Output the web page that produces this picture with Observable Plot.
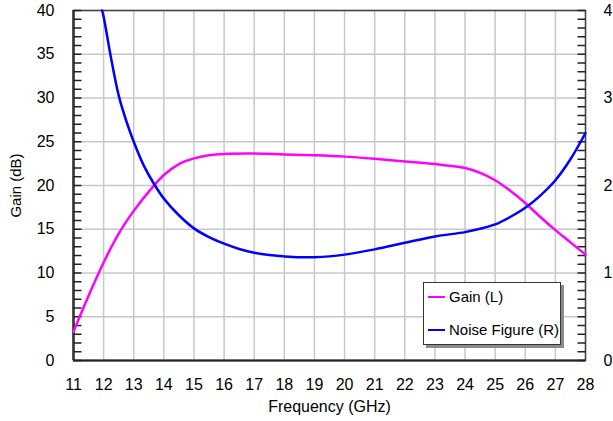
<!DOCTYPE html>
<html>
<head>
<meta charset="utf-8">
<script src="https://cdn.jsdelivr.net/npm/d3@7"></script>
<script src="https://cdn.jsdelivr.net/npm/@observablehq/plot@0.6"></script>
<style>
  html, body { margin: 0; padding: 0; background: #fff; }
  #wrap { position: relative; width: 613px; height: 421px; font-family: "Liberation Sans", Arial, sans-serif; }
  #legend { position: absolute; left: 423px; top: 282px; width: 136px; height: 61px; background: #fff;
            border: 1px solid #333; box-shadow: 3px 3px 0 #8a8a8a; font-size: 15px; color: #000; }
  .row { position: absolute; left: 4px; display: flex; align-items: center; white-space: nowrap; line-height: 18px; }
  .sw { display: inline-block; width: 17px; height: 2.5px; margin-right: 4px; }
</style>
</head>
<body>
<div id="wrap"><div id="chart"></div>
  <div id="legend">
    <div class="row" style="top:5px"><span class="sw" style="background:#ff00ff"></span><span>Gain (L)</span></div>
    <div class="row" style="top:38px"><span class="sw" style="background:#0000ff"></span><span>Noise Figure (R)</span></div>
  </div>
</div>
<script>
// Gain (left axis, dB)
const gainFreq = [11, 11.5, 12, 12.5, 13, 13.5, 14, 14.5, 15, 15.5, 16, 17, 18, 19, 20, 21, 22, 23, 24, 24.5, 25, 25.5, 26, 26.5, 27, 27.5, 28];
const gainDb   = [3.3, 7.4, 11.2, 14.5, 17.1, 19.3, 21.2, 22.45, 23.1, 23.45, 23.6, 23.65, 23.55, 23.45, 23.3, 23.05, 22.75, 22.45, 22.0, 21.45, 20.6, 19.4, 18.0, 16.4, 14.9, 13.5, 12.1];
// Noise figure (right axis, dB)
const nfFreq = [11.95, 12, 12.25, 12.5, 12.75, 13, 13.33, 13.67, 14, 14.5, 15, 15.5, 16, 16.5, 17, 17.5, 18, 18.5, 19, 19.5, 20, 21, 22, 23, 24, 24.5, 25, 25.5, 26, 26.5, 27, 27.5, 28];
const nfDb   = [4.0, 3.93, 3.45, 3.03, 2.74, 2.5, 2.23, 2.02, 1.85, 1.66, 1.51, 1.41, 1.335, 1.275, 1.232, 1.205, 1.19, 1.18, 1.18, 1.19, 1.21, 1.27, 1.345, 1.418, 1.467, 1.505, 1.555, 1.64, 1.745, 1.885, 2.06, 2.3, 2.6];
// Axis ticks
const xTicks = d3.range(11, 29);
const yLeftTicks = d3.range(0, 41, 5);
const yLeftMinor = d3.range(0, 41, 1);
const yRightTicks = [0, 1, 2, 3, 4];
const yRightMinor = d3.range(0, 41, 1).map(d => d / 10);

const ratio = 10; // right axis (0–4) mapped onto left axis (0–40)
const gain = gainFreq.map((f, i) => ({f, v: gainDb[i]}));
const nf = nfFreq.map((f, i) => ({f, v: nfDb[i] * ratio}));
const leftMinor = yLeftMinor.map(v => ({v}));
const rightMinor = yRightMinor.map(v => ({v: v * ratio}));

const W = 613, H = 421, ML = 73, MR = 28, MT = 10, MB = 61;
const xDomain = [11, 28];
const tickLen = 8, innerW = W - ML - MR;
const tickDx = tickLen * (xDomain[1] - xDomain[0]) / innerW; // 8px expressed in x units

const chart = Plot.plot({
  width: W, height: H,
  marginLeft: ML, marginRight: MR, marginTop: MT, marginBottom: MB,
  style: {fontFamily: "'Liberation Sans', Arial, sans-serif", fontSize: "16px", color: "#000", background: "#fff"},
  x: {domain: xDomain},
  y: {domain: [0, 40]},
  marks: [
    Plot.gridX(xTicks, {stroke: "#c8c8c8", strokeOpacity: 1, strokeWidth: 1.5}),
    Plot.gridY(yLeftTicks, {stroke: "#c8c8c8", strokeOpacity: 1, strokeWidth: 1.5}),
    Plot.frame({stroke: "#444", strokeWidth: 1.5}),
    Plot.ruleX([11], {stroke: "#333", strokeWidth: 2.5}),
    Plot.ruleY([0], {stroke: "#222", strokeWidth: 2}),
    Plot.link(leftMinor, {x1: () => xDomain[0], x2: () => xDomain[0] + tickDx, y1: "v", y2: "v", stroke: "#222", strokeWidth: 1.5}),
    Plot.link(rightMinor, {x1: () => xDomain[1] - tickDx, x2: () => xDomain[1], y1: "v", y2: "v", stroke: "#222", strokeWidth: 1.5}),
    Plot.axisX(xTicks, {tickSize: 0, tickPadding: 18, fontSize: 16, label: null}),
    Plot.axisX({tickSize: 0, ticks: [], fontSize: 16, label: "Frequency (GHz)", labelAnchor: "center", labelArrow: "none", labelOffset: 51}),
    Plot.axisY(yLeftTicks, {anchor: "left", tickSize: 0, tickPadding: 19, fontSize: 16, label: null}),
    Plot.axisY({anchor: "left", tickSize: 0, ticks: [], fontSize: 15, label: "Gain (dB)", labelAnchor: "center", labelArrow: "none", labelOffset: 63}),
    Plot.axisY(yRightTicks.map(d => d * ratio), {anchor: "right", tickSize: 0, tickPadding: 18, fontSize: 16, tickFormat: d => d / ratio, label: null}),
    Plot.line(gain, {x: "f", y: "v", stroke: "#ff00ff", strokeWidth: 2.5, curve: "catmull-rom"}),
    Plot.line(nf, {x: "f", y: "v", stroke: "#0000ff", strokeWidth: 2.5, curve: "catmull-rom"})
  ]
});
document.getElementById("chart").appendChild(chart);
</script>
</body>
</html>
